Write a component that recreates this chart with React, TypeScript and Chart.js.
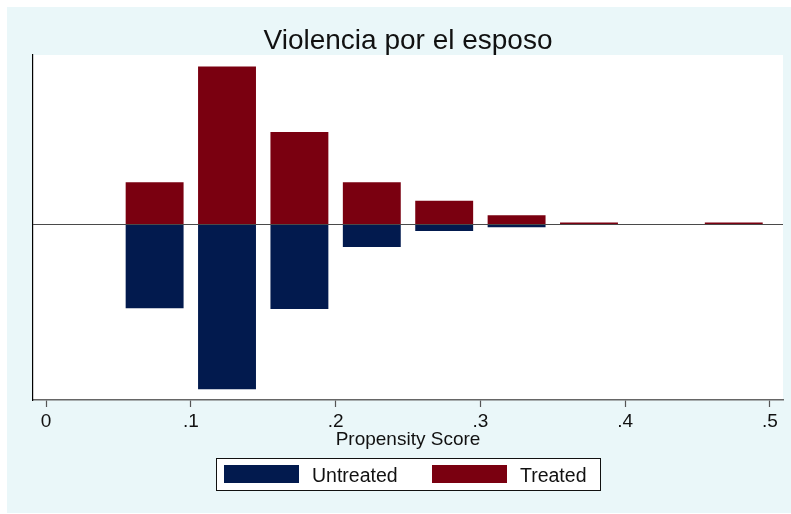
import { useEffect, useRef } from "react";
import { Chart, registerables } from "chart.js";

Chart.register(...registerables);

// Histogram bins (bin width 0.05), densities of the propensity score
const binCenters = [0.075, 0.125, 0.175, 0.225, 0.275, 0.325, 0.375, 0.425, 0.475];
const treated = [2.28, 8.57, 5.02, 2.28, 1.28, 0.49, 0.09, 0, 0.09];
const untreated = [4.57, 8.97, 4.6, 1.23, 0.36, 0.16, 0, 0, 0];

const tickValues = [0, 0.1, 0.2, 0.3, 0.4, 0.5];
const tickLabels = ["0", ".1", ".2", ".3", ".4", ".5"];

const chartTitle = "Violencia por el esposo";
const xAxisTitle = "Propensity Score";
const seriesNames = ["Untreated", "Treated"];

const COLORS = {
  untreated: "#021a4e",
  treated: "#7a0010",
  outer: "#eaf7f9",
  text: "#111111",
};

const FONT = '"Liberation Sans", Arial, Helvetica, sans-serif';

const W = 791;
const H = 514;

const framePlugin = {
  id: "stataFrame",
  beforeDraw(chart: any) {
    const { ctx, chartArea } = chart;
    ctx.save();
    ctx.fillStyle = "#ffffff";
    ctx.fillRect(0, 0, W, H);
    ctx.fillStyle = COLORS.outer;
    ctx.fillRect(7, 7, W - 7, H - 8);
    ctx.fillStyle = "#ffffff";
    ctx.fillRect(
      chartArea.left,
      chartArea.top,
      chartArea.right - chartArea.left,
      chartArea.bottom - chartArea.top
    );
    ctx.restore();
  },
  afterDatasetsDraw(chart: any) {
    const { ctx, chartArea, scales } = chart;
    const y0 = Math.round(scales.y.getPixelForValue(0)) + 0.5;
    ctx.save();
    ctx.strokeStyle = "#4a4a4a";
    ctx.lineWidth = 1;
    ctx.beginPath();
    ctx.moveTo(chartArea.left, y0);
    ctx.lineTo(chartArea.right, y0);
    ctx.stroke();
    ctx.restore();
  },
  afterDraw(chart: any) {
    const { ctx, chartArea } = chart;
    const cx = (chartArea.left + chartArea.right) / 2;
    ctx.save();
    ctx.fillStyle = COLORS.text;
    ctx.textAlign = "center";
    ctx.textBaseline = "alphabetic";
    ctx.font = `28px ${FONT}`;
    ctx.fillText(chartTitle, cx, 48.5);

    ctx.font = `19px ${FONT}`;
    ctx.fillText(xAxisTitle, cx, 444.5);

    // legend box
    ctx.fillStyle = "#ffffff";
    ctx.fillRect(216, 458, 384, 32);
    ctx.strokeStyle = "#111111";
    ctx.lineWidth = 1;
    ctx.strokeRect(216.5, 458.5, 384, 32);

    const items = [
      { name: seriesNames[0], color: COLORS.untreated, sx: 224, tx: 312 },
      { name: seriesNames[1], color: COLORS.treated, sx: 432, tx: 520 },
    ];
    ctx.font = `19.5px ${FONT}`;
    ctx.textAlign = "left";
    for (const it of items) {
      ctx.fillStyle = it.color;
      ctx.fillRect(it.sx, 465, 75, 18);
      ctx.fillStyle = COLORS.text;
      ctx.fillText(it.name, it.tx, 481.5);
    }
    ctx.restore();
  },
};

export default function App() {
  const canvasRef = useRef<HTMLCanvasElement | null>(null);

  useEffect(() => {
    const canvas = canvasRef.current;
    if (!canvas) return;

    const chart = new Chart(canvas, {
      type: "bar",
      data: {
        datasets: [
          {
            label: seriesNames[1],
            data: binCenters.map((x, i) => ({ x, y: treated[i] })),
            backgroundColor: COLORS.treated,
            borderWidth: 0,
            grouped: false,
            categoryPercentage: 1,
            barPercentage: 0.8,
          } as any,
          {
            label: seriesNames[0],
            data: binCenters.map((x, i) => ({ x, y: -untreated[i] })),
            backgroundColor: COLORS.untreated,
            borderWidth: 0,
            grouped: false,
            categoryPercentage: 1,
            barPercentage: 0.8,
          } as any,
        ],
      },
      options: {
        animation: false,
        responsive: false,
        devicePixelRatio: 1,
        layout: { padding: { left: 33, right: 8, top: 55, bottom: 0 } },
        plugins: {
          legend: { display: false },
          title: { display: false },
          tooltip: { enabled: false },
        },
        scales: {
          x: {
            type: "linear",
            min: -0.009,
            max: 0.509,
            offset: false,
            afterBuildTicks: (scale: any) => {
              scale.ticks = tickValues.map((v) => ({ value: v }));
            },
            afterFit: (scale: any) => {
              scale.height = 114;
            },
            grid: {
              display: true,
              offset: false,
              drawOnChartArea: false,
              drawTicks: true,
              tickLength: 7,
              tickColor: "#555555",
              tickWidth: 1.2,
            },
            border: { display: true, color: "#666666", width: 1.5 },
            ticks: {
              padding: 3,
              maxRotation: 0,
              autoSkip: false,
              color: COLORS.text,
              font: { family: FONT, size: 19 },
              callback: (value: any) => {
                const idx = tickValues.findIndex((t) => Math.abs(t - Number(value)) < 1e-9);
                return idx >= 0 ? tickLabels[idx] : "";
              },
            },
          },
          y: {
            type: "linear",
            min: -9.55,
            max: 9.2,
            afterFit: (scale: any) => {
              scale.width = 0;
            },
            grid: { display: false },
            border: { display: true, color: "#000000", width: 1.2 },
            ticks: { display: false },
          },
        },
      } as any,
      plugins: [framePlugin],
    });

    return () => chart.destroy();
  }, []);

  return (
    <canvas
      ref={canvasRef}
      width={W}
      height={H}
      style={{ position: "fixed", left: 0, top: 0, width: W, height: H, display: "block" }}
    />
  );
}
